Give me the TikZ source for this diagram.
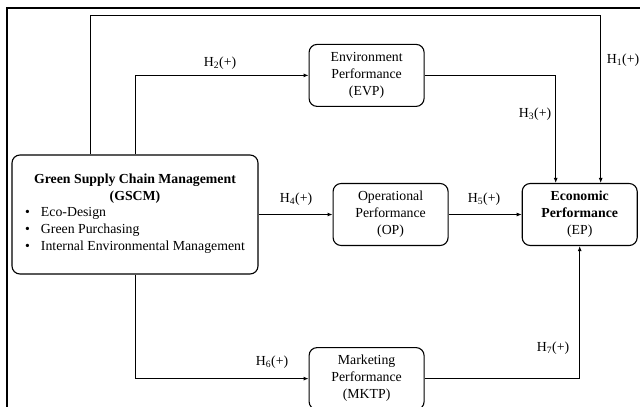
\documentclass[tikz,border=0pt]{standalone}
\usepackage{fontspec}
\setmainfont{Liberation Serif}
\usetikzlibrary{arrows.meta,positioning}

\begin{document}
\begin{tikzpicture}[x=1pt,y=-1pt,
    every node/.style={font=\fontsize{13.8}{17}\selectfont},
    box/.style={draw=black,line width=1.1pt,rounded corners=8pt,fill=white,minimum width=115pt,minimum height=62pt,align=center,inner sep=2pt},
    mainbox/.style={box,minimum width=246pt,minimum height=119pt},
    hyp/.style={inner sep=0pt},
    arrow/.style={-{Latex[length=5pt,width=4pt]},line width=0.9pt}
  ]
    \useasboundingbox (0,0) rectangle (640,407);
    \draw[line width=2.2pt] (7,407) -- (7,8) -- (640,8);
    \node[mainbox] (gscm) at (135,214.5) {\textbf{Green Supply Chain Management}\\\textbf{(GSCM)}\\
      \begin{tabular}{@{}l@{}}\textbullet\hspace{11pt}Eco-Design\\\textbullet\hspace{11pt}Green Purchasing\\\textbullet\hspace{11pt}Internal Environmental Management\end{tabular}};
    \node[box,right=74pt of gscm] (op) {Operational\\Performance\\(OP)};
    \node[box,right=73pt of op] (ep) {\textbf{Economic}\\\textbf{Performance}\\(EP)};
    \node[box,above=76pt of op,xshift=-24pt] (evp) {Environment\\Performance\\(EVP)};
    \node[box,below=101pt of op,xshift=-24pt] (mktp) {Marketing\\Performance\\(MKTP)};
    \coordinate (top) at (0,15);
    \node[hyp] (h1) at (623,60) {H\textsubscript{1}(+)};
    \node[hyp] (h2) at (220,63) {H\textsubscript{2}(+)};
    \node[hyp] (h3) at (535,114) {H\textsubscript{3}(+)};
    \node[hyp] (h4) at (296,199) {H\textsubscript{4}(+)};
    \node[hyp] (h5) at (484,199) {H\textsubscript{5}(+)};
    \node[hyp] (h6) at (272,362) {H\textsubscript{6}(+)};
    \node[hyp] (h7) at (553,348) {H\textsubscript{7}(+)};
    \draw[arrow] ([xshift=-45pt]gscm.north) |- ([xshift=21pt]ep.north |- top) -- ([xshift=21pt]ep.north);
    \draw[arrow] (gscm.north) |- (evp.west);
    \draw[arrow] (evp.east) -| ([xshift=-24pt]ep.north);
    \draw[arrow] (gscm.east) -- (op.west);
    \draw[arrow] (op.east) -- (ep.west);
    \draw[arrow] (gscm.south) |- (mktp.west);
    \draw[arrow] (mktp.east) -| (ep.south);
  \end{tikzpicture}
\end{document}
